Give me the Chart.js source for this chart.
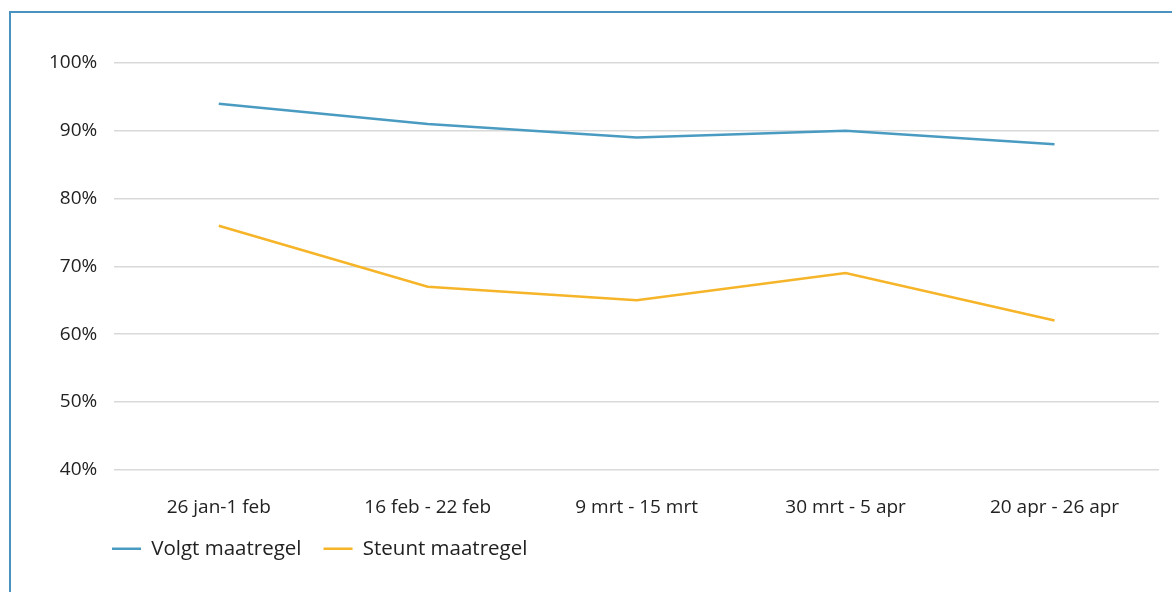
<!DOCTYPE html>
<html><head><meta charset="utf-8">
<script src="https://cdn.jsdelivr.net/npm/chart.js@4"></script>
<style>
html,body{margin:0;padding:0;background:#fff;width:1172px;height:592px;overflow:hidden}
#wrap{position:absolute;left:0;top:0;width:1172px;height:592px}
.bt{position:absolute;left:9px;top:11px;width:1163px;height:1.5px;background:#4a93c0}
.bl{position:absolute;left:9px;top:11px;width:1.5px;height:581px;background:#4a93c0}
</style></head><body>
<div id="wrap"><canvas id="c"></canvas></div>
<div class="bt"></div><div class="bl"></div>
<script>
const categories = ["26 jan-1 feb","16 feb - 22 feb","9 mrt - 15 mrt","30 mrt - 5 apr","20 apr - 26 apr"];
const volgt = [94, 91, 89, 90, 88];
const steunt = [76, 67, 65, 69, 62];
const seriesNames = ["Volgt maatregel","Steunt maatregel"];
const yTicks = [40,50,60,70,80,90,100];

Chart.defaults.font.family = "'Open Sans', Lato, sans-serif";
Chart.defaults.font.size = 19;
Chart.defaults.color = "#222";

const legendShift = {
  id: 'legendShift',
  afterLayout(chart) {
    const lg = chart.legend;
    if (lg) { lg.left = 90; lg.top -= 28; lg.bottom -= 28; }
  }
};

new Chart(document.getElementById('c'), {
  type: 'line',
  data: {
    labels: categories,
    datasets: [
      {label: seriesNames[0], data: volgt, borderColor: '#4a9bc1', backgroundColor: '#4a9bc1', borderWidth: 2.5, pointRadius: 0, tension: 0, pointStyle: 'line'},
      {label: seriesNames[1], data: steunt, borderColor: '#f6b428', backgroundColor: '#f6b428', borderWidth: 2.5, pointRadius: 0, tension: 0, pointStyle: 'line'}
    ]
  },
  options: {
    responsive: true, maintainAspectRatio: false, animation: false,
    layout: {padding: {left: 32, right: 13, top: 63, bottom: -5}},
    plugins: {
      legend: {position: 'bottom', align: 'start',
        labels: {usePointStyle: true, pointStyleWidth: 29, padding: 22, color: '#222', font: {size: 20.5}}},
      tooltip: {enabled: false}
    },
    scales: {
      x: {offset: true, grid: {display: false, drawTicks: false}, border: {display: false},
          ticks: {padding: 26, color: '#222', maxRotation: 0}},
      y: {min: 40, max: 100,
          afterBuildTicks: s => { s.ticks = yTicks.map(v => ({value: v})); },
          grid: {color: '#d9d9d9', lineWidth: 1.5, drawTicks: false}, border: {display: false},
          ticks: {padding: 17, color: '#222', callback: v => v + '%'}}
    }
  },
  plugins: [legendShift]
});
</script></body></html>
